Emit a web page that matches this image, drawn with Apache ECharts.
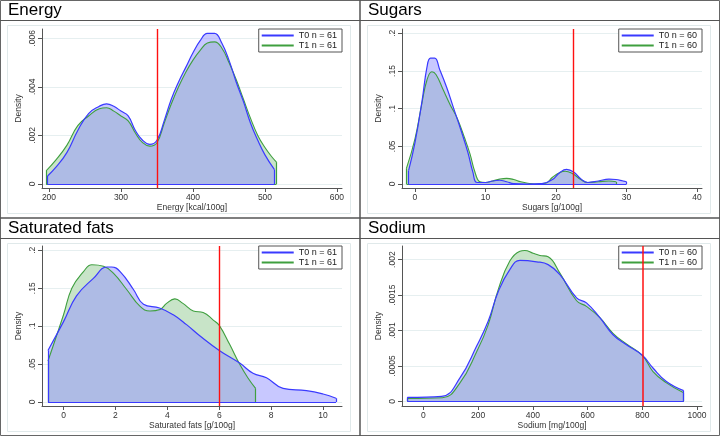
<!DOCTYPE html>
<html>
<head>
<meta charset="utf-8">
<script src="https://cdn.jsdelivr.net/npm/echarts@6/dist/echarts.min.js"></script>
<style>
  html, body { margin: 0; padding: 0; background: #fff; }
  #chart { width: 720px; height: 436px; }
</style>
</head>
<body>
<div id="chart"></div>
<script>
// kernel density curves, [value, density]
const energyT0 = [[198, 0.00033], [210, 0.0007], [225, 0.0013], [240, 0.0022], [255, 0.0029], [270, 0.0032], [280, 0.0033], [290, 0.0032], [300, 0.003], [310, 0.0028], [320, 0.0022], [330, 0.0018], [340, 0.00163], [350, 0.0018], [360, 0.0026], [370, 0.0035], [380, 0.0042], [390, 0.0048], [400, 0.0054], [410, 0.0059], [420, 0.0062], [430, 0.0062], [440, 0.0058], [450, 0.0051], [460, 0.0042], [470, 0.0034], [480, 0.0025], [490, 0.0018], [500, 0.0012], [513, 0.0006]]
const energyT1 = [[196, 0.00054], [210, 0.001], [225, 0.0016], [240, 0.0024], [255, 0.0028], [270, 0.0031], [280, 0.00314], [290, 0.003], [300, 0.0028], [310, 0.0026], [320, 0.0021], [330, 0.0017], [340, 0.00156], [350, 0.0017], [360, 0.0025], [370, 0.0033], [380, 0.004], [390, 0.0046], [400, 0.0051], [410, 0.0055], [420, 0.0058], [430, 0.00585], [440, 0.0056], [450, 0.005], [460, 0.0043], [470, 0.0035], [480, 0.0027], [490, 0.002], [500, 0.0015], [510, 0.0011], [516, 0.0009]]

const sugarsT0 = [[-0.9, 0.018], [0, 0.055], [1, 0.11], [1.7, 0.155], [2.2, 0.167], [2.8, 0.167], [3.5, 0.152], [4.5, 0.128], [5.5, 0.1], [6.5, 0.072], [7.5, 0.042], [8.2, 0.016], [8.8, 0.002], [10, 0.002], [11, 0.004], [12, 0.005], [13, 0.003], [14, 0.0005], [16, 0], [18, 0.0005], [19.5, 0.006], [20.5, 0.015], [21.5, 0.0195], [22.5, 0.016], [23.5, 0.007], [24.5, 0.002], [26, 0.004], [27.5, 0.0066], [28.5, 0.006], [29.5, 0.004], [30, 0.003]]
const sugarsT1 = [[-1.2, 0.021], [0, 0.06], [1, 0.108], [1.7, 0.138], [2.4, 0.149], [3, 0.145], [4, 0.125], [5, 0.105], [6, 0.087], [7, 0.062], [7.8, 0.04], [8.5, 0.016], [9.2, 0.003], [10, 0.002], [11, 0.004], [12, 0.0065], [13, 0.0075], [14, 0.006], [15, 0.003], [16, 0.001], [17, 0], [18.5, 0.001], [19.5, 0.009], [20.5, 0.015], [21.3, 0.017], [22.3, 0.014], [23.5, 0.006], [24.5, 0.002], [26, 0.003], [27.5, 0.004], [28.5, 0.003]]

const satfatT0 = [[-0.6, 0.068], [0, 0.106], [0.5, 0.14], [1.15, 0.163], [1.67, 0.178], [1.85, 0.178], [2.18, 0.172], [2.7, 0.148], [3.08, 0.129], [3.7, 0.124], [4.23, 0.115], [4.74, 0.102], [5.26, 0.087], [6, 0.068], [6.8, 0.051], [7.3, 0.038], [7.82, 0.032], [8.46, 0.018], [9.36, 0.015], [10, 0.0105], [10.5, 0.005]]
const satfatT1 = [[-0.6, 0.054], [0, 0.115], [0.32, 0.15], [0.77, 0.172], [1.09, 0.181], [1.54, 0.179], [1.92, 0.17], [2.44, 0.148], [2.95, 0.126], [3.33, 0.12], [3.72, 0.122], [3.97, 0.13], [4.29, 0.136], [4.6, 0.13], [5, 0.12], [5.38, 0.118], [5.77, 0.108], [6, 0.101], [6.4, 0.076], [6.8, 0.049], [7.1, 0.032], [7.4, 0.018]]

const sodiumT0 = [[-58, 0.000056], [67, 0.00007], [134, 0.00033], [195, 0.00078], [237, 0.00113], [274, 0.00155], [316, 0.00186], [353, 0.00199], [414, 0.00197], [456, 0.00193], [499, 0.00179], [560, 0.00146], [596, 0.00139], [645, 0.00118], [693, 0.00094], [742, 0.0008], [800, 0.00065], [839, 0.00047], [888, 0.00028], [951, 0.00015]]
const sodiumT1 = [[-58, 0.00004], [70, 0.00005], [134, 0.00026], [195, 0.0007], [237, 0.00108], [274, 0.00158], [316, 0.00198], [353, 0.00212], [371, 0.00213], [401, 0.00209], [426, 0.00206], [456, 0.00204], [499, 0.00181], [560, 0.00142], [596, 0.00134], [645, 0.00118], [693, 0.00096], [742, 0.00081], [800, 0.00065], [839, 0.00042], [888, 0.00026], [951, 0.00012]]

// tick labels
const energyTicks = [200, 300, 400, 500, 600]
const sugarsTicks = [0, 10, 20, 30, 40]
const satfatTicks = [0, 2, 4, 6, 8, 10]
const sodiumTicks = [0, 200, 400, 600, 800, 1000]
const energyDens = [0, 0.002, 0.004, 0.006]
const sugarsDens = [0, 0.05, 0.1, 0.15, 0.2]
const satfatDens = [0, 0.05, 0.1, 0.15, 0.2]
const sodiumDens = [0, 0.0005, 0.001, 0.0015, 0.002]

// reference lines
const energyRef = 350
const sugarsRef = 22.5
const satfatRef = 6
const sodiumRef = 800

const titles = ['Energy', 'Sugars', 'Saturated fats', 'Sodium']
const xNames = ['Energy [kcal/100g]', 'Sugars [g/100g]', 'Saturated fats [g/100g]', 'Sodium [mg/100g]']
const legendT0 = ['T0 n = 61', 'T0 n = 60', 'T0 n = 61', 'T0 n = 60']
const legendT1 = ['T1 n = 61', 'T1 n = 60', 'T1 n = 61', 'T1 n = 60']

const panels = [
  { t0: energyT0, t1: energyT1, xTicks: energyTicks, yTicks: energyDens, ref: energyRef,
    grid: { left: 42, top: 29, width: 300, height: 159 }, x: [190.3, 607], y: [-0.000165, 0.00638], ox: 0, oy: 0 },
  { t0: sugarsT0, t1: sugarsT1, xTicks: sugarsTicks, yTicks: sugarsDens, ref: sugarsRef,
    grid: { left: 402, top: 29, width: 300, height: 159 }, x: [-1.84, 40.7], y: [-0.0053, 0.2057], ox: 360, oy: 0 },
  { t0: satfatT0, t1: satfatT1, xTicks: satfatTicks, yTicks: satfatDens, ref: satfatRef,
    grid: { left: 42, top: 246, width: 300, height: 160 }, x: [-0.83, 10.73], y: [-0.00527, 0.2057], ox: 0, oy: 218 },
  { t0: sodiumT0, t1: sodiumT1, xTicks: sodiumTicks, yTicks: sodiumDens, ref: sodiumRef,
    grid: { left: 402, top: 246, width: 300, height: 160 }, x: [-77.7, 1018], y: [-0.0000664, 0.002193], ox: 360, oy: 218 }
]

const FONT = 'Liberation Sans, Arial, sans-serif'
const BLUE = '#3a3aff'
const GREEN = '#3f9f3f'

function stataNum(v) {
  if (v === 0) return '0'
  return String(v).replace(/^0\./, '.')
}

// vertical end edges + baseline of the filled density
function edges(data, color) {
  const first = data[0]
  const last = data[data.length - 1]
  return {
    symbol: ['none', 'none'],
    silent: true,
    animation: false,
    label: { show: false },
    emphasis: { disabled: true },
    lineStyle: { color: color, width: 1.2, type: 'solid' },
    data: [
      [{ coord: [first[0], 0] }, { coord: [first[0], first[1]] }],
      [{ coord: [last[0], 0] }, { coord: [last[0], last[1]] }],
      [{ coord: [first[0], 0] }, { coord: [last[0], 0] }]
    ]
  }
}

const option = {
  animation: false,
  title: [],
  grid: [],
  xAxis: [],
  yAxis: [],
  legend: [],
  series: [],
  graphic: []
}

panels.forEach((p, i) => {
  option.title.push({
    text: titles[i],
    left: p.ox + 8,
    top: p.oy + 2,
    padding: 0,
    textStyle: { fontFamily: FONT, fontSize: 17, fontWeight: 'normal', color: '#000' }
  })
  option.grid.push(Object.assign({ containLabel: false }, p.grid))
  option.xAxis.push({
    type: 'value',
    gridIndex: i,
    min: p.x[0],
    max: p.x[1],
    name: xNames[i],
    nameLocation: 'middle',
    nameGap: 14,
    nameTextStyle: { fontFamily: FONT, fontSize: 8.5, color: '#333' },
    axisLine: { onZero: false, lineStyle: { color: '#555', width: 1 } },
    axisTick: { length: 4, customValues: p.xTicks, lineStyle: { color: '#555' } },
    axisLabel: { customValues: p.xTicks, margin: 5, fontFamily: FONT, fontSize: 8.5, color: '#333', formatter: v => String(v) },
    splitLine: { show: false }
  })
  option.yAxis.push({
    type: 'value',
    gridIndex: i,
    min: p.y[0],
    max: p.y[1],
    name: 'Density',
    nameLocation: 'middle',
    nameRotate: 90,
    nameGap: 19,
    nameTextStyle: { fontFamily: FONT, fontSize: 8.5, color: '#333' },
    axisLine: { show: true, onZero: false, lineStyle: { color: '#555', width: 1 } },
    axisTick: { show: true, length: 4, customValues: p.yTicks, lineStyle: { color: '#555' } },
    axisLabel: { customValues: p.yTicks, rotate: 90, margin: 5, fontFamily: FONT, fontSize: 8.5, color: '#333', formatter: stataNum },
    splitLine: { show: true, lineStyle: { color: '#e6eff0', width: 1 } }
  })
  option.legend.push({
    orient: 'vertical',
    right: 720 - (p.grid.left + p.grid.width),
    top: p.grid.top,
    data: [legendT0[i], legendT1[i]],
    icon: 'rect',
    itemWidth: 32,
    itemHeight: 2,
    itemGap: 1,
    padding: [2, 5, 2, 3],
    borderColor: '#555',
    borderWidth: 1,
    backgroundColor: '#fff',
    selectedMode: false,
    textStyle: { fontFamily: FONT, fontSize: 9, lineHeight: 9, color: '#222', padding: [0, 0, 0, 0] }
  })
  option.series.push({
    name: legendT1[i],
    type: 'line',
    xAxisIndex: i,
    yAxisIndex: i,
    data: p.t1,
    showSymbol: false,
    symbol: 'none',
    smooth: 0.45,
    itemStyle: { color: GREEN },
    lineStyle: { color: GREEN, width: 1.1 },
    areaStyle: { color: 'rgb(200,228,200)', opacity: 1 },
    markLine: edges(p.t1, GREEN)
  })
  const m = edges(p.t0, BLUE)
  m.data.push({ xAxis: p.ref, lineStyle: { color: '#ff1010', width: i === 3 ? 2 : 1.4, type: 'solid', opacity: i === 3 ? 0.75 : 1 } })
  option.series.push({
    name: legendT0[i],
    type: 'line',
    xAxisIndex: i,
    yAxisIndex: i,
    data: p.t0,
    showSymbol: false,
    symbol: 'none',
    smooth: 0.45,
    itemStyle: { color: BLUE },
    lineStyle: { color: BLUE, width: 1.2 },
    areaStyle: { color: 'rgba(150,150,255,0.52)', opacity: 1 },
    markLine: m
  })
  // faint plot region frame
  option.graphic.push({
    type: 'rect',
    silent: true,
    z: -1,
    shape: { x: p.ox + 7.5, y: p.oy + 25.5, width: 343, height: 188 },
    style: { fill: 'none', stroke: '#e0e9ea', lineWidth: 1 }
  })
})

// panel frames and title bars
option.graphic.push(
  { type: 'rect', silent: true, shape: { x: 0.5, y: 0.5, width: 719, height: 435 }, style: { fill: 'none', stroke: '#666', lineWidth: 1 } },
  { type: 'line', silent: true, shape: { x1: 360, y1: 0, x2: 360, y2: 436 }, style: { stroke: '#555', lineWidth: 1.5 } },
  { type: 'line', silent: true, shape: { x1: 0, y1: 218, x2: 720, y2: 218 }, style: { stroke: '#555', lineWidth: 1.5 } },
  { type: 'line', silent: true, shape: { x1: 0, y1: 20.5, x2: 720, y2: 20.5 }, style: { stroke: '#555', lineWidth: 1 } },
  { type: 'line', silent: true, shape: { x1: 0, y1: 238.5, x2: 720, y2: 238.5 }, style: { stroke: '#555', lineWidth: 1 } }
)

const chart = echarts.init(document.getElementById('chart'), null, { renderer: 'canvas' })
chart.setOption(option)
</script>
</body>
</html>
